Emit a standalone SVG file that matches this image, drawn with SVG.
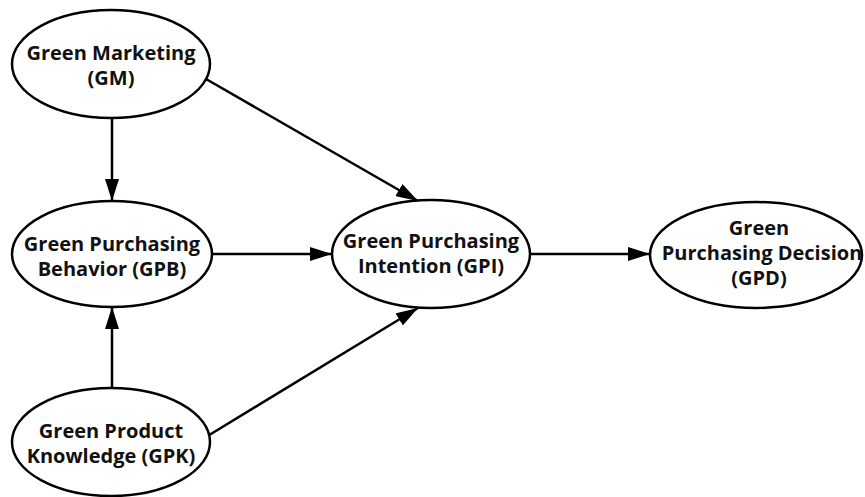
<svg xmlns="http://www.w3.org/2000/svg" width="865" height="497" viewBox="0 0 865 497">
<style>
.n{fill:#fff;stroke:#000;stroke-width:2.5}
.t{font-family:"Open Sans","Noto Sans",sans-serif;font-weight:bold;font-size:20px;fill:#111;text-anchor:middle}
.c{stroke:#000;stroke-width:2.5;fill:none;marker-end:url(#b)}
</style>
<defs>
<marker id="b" markerWidth="22" markerHeight="14" refX="22" refY="7" orient="auto" markerUnits="userSpaceOnUse"><path d="M0,0 L22,7 L0,14 z" fill="#000"/></marker>
</defs>
<g id="connectors">
<line class="c" x1="112" y1="118" x2="112" y2="201"/>
<line class="c" x1="206" y1="79" x2="418" y2="201"/>
<line class="c" x1="212" y1="254" x2="332" y2="254"/>
<line class="c" x1="112" y1="388" x2="112" y2="307"/>
<line class="c" x1="206" y1="437" x2="418" y2="308"/>
<line class="c" x1="530" y1="254" x2="650" y2="254"/>
</g>
<g id="GM"><ellipse class="n" cx="111" cy="64" rx="99" ry="54"/><text class="t" x="111" y="60">Green Marketing</text><text class="t" x="111" y="85">(GM)</text></g>
<g id="GPB"><ellipse class="n" cx="112" cy="254" rx="100" ry="53"/><text class="t" x="112" y="251">Green Purchasing</text><text class="t" x="112" y="276">Behavior (GPB)</text></g>
<g id="GPI"><ellipse class="n" cx="431" cy="254" rx="99" ry="54"/><text class="t" x="431" y="248">Green Purchasing</text><text class="t" x="431" y="273">Intention (GPI)</text></g>
<g id="GPD"><ellipse class="n" cx="756" cy="255" rx="106" ry="53"/><text class="t" x="759" y="235">Green</text><text class="t" x="762" y="260">Purchasing Decision</text><text class="t" x="759" y="285">(GPD)</text></g>
<g id="GPK"><ellipse class="n" cx="111" cy="442" rx="99" ry="54"/><text class="t" x="111" y="438">Green Product</text><text class="t" x="111" y="463">Knowledge (GPK)</text></g>
</svg>
